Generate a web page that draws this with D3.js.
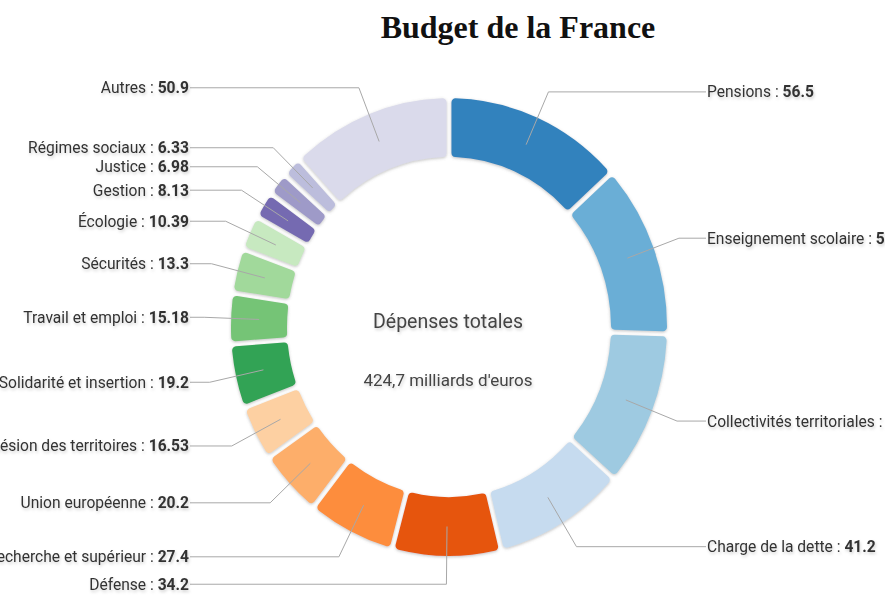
<!DOCTYPE html>
<html>
<head>
<meta charset="utf-8">
<style>
  body { margin: 0; background: #fff; }
  svg { display: block; }
</style>
</head>
<body>
<svg width="885" height="595"></svg>

<script src="https://cdnjs.cloudflare.com/ajax/libs/d3/7.8.5/d3.min.js"></script>
<script>

	// Budget de la France - donut with outside labels

	const categories = [
		"Pensions", "Enseignement scolaire", "Collectivités territoriales", "Charge de la dette",
		"Défense", "Recherche et supérieur", "Union européenne", "Cohésion des territoires",
		"Solidarité et insertion", "Travail et emploi", "Sécurités", "Écologie",
		"Gestion", "Justice", "Régimes sociaux", "Autres"
	]
	const values = [56.5, 51.7, 46.56, 41.2, 34.2, 27.4, 20.2, 16.53, 19.2, 15.18, 13.3, 10.39, 8.13, 6.98, 6.33, 50.9]
	const colors = [
		"#3182bd", "#6baed6", "#9ecae1", "#c6dbef",
		"#e6550d", "#fd8d3c", "#fdae6b", "#fdd0a2",
		"#31a354", "#74c476", "#a1d99b", "#c7e9c0",
		"#756bb1", "#9e9ac8", "#bcbddc", "#dadaeb"
	]
	const centerTitle = "Dépenses totales"
	const centerTotal = "424,7 milliards d'euros"

	const data = categories.map((name, i) => ({name: name, value: values[i]}))

	const cx = 449
	const cy = 327
	const sy = 1.05          // picture is a bit taller than wide
	const outerR = 218
	const innerR = 162
	const kneeR = 245
	const labelGap = 257     // distance of the label column from the centre

	const svg = d3.select("svg")
		.attr("font-family", "Roboto, sans-serif")

	const defs = svg.append("defs")
	defs.append("filter").attr("id", "sliceShadow")
		.attr("x", "-10%").attr("y", "-10%").attr("width", "120%").attr("height", "120%")
		.append("feDropShadow")
			.attr("dx", 0).attr("dy", 1).attr("stdDeviation", 1.4)
			.attr("flood-color", "#777").attr("flood-opacity", 0.45)
	defs.append("filter").attr("id", "textShadow")
		.attr("x", "-10%").attr("y", "-40%").attr("width", "120%").attr("height", "180%")
		.append("feDropShadow")
			.attr("dx", 1).attr("dy", 2).attr("stdDeviation", 1.6)
			.attr("flood-color", "#000").attr("flood-opacity", 0.18)

	// title
	svg.append("text")
		.attr("x", 518)
		.attr("y", 38)
		.attr("text-anchor", "middle")
		.attr("font-family", "'Liberation Serif', serif")
		.attr("font-weight", "bold")
		.attr("font-size", 32)
		.attr("fill", "#111")
		.text("Budget de la France")

	const pie = d3.pie()
		.sort(null)
		.value(d => d.value)

	const arc = d3.arc()
		.innerRadius(innerR)
		.outerRadius(outerR)
		.cornerRadius(4)
		.padAngle(0.018)

	const arcs = pie(data)

	// slices
	svg.append("g")
		.attr("transform", `translate(${cx},${cy}) scale(1,${sy})`)
		.attr("filter", "url(#sliceShadow)")
		.selectAll("path")
		.data(arcs)
		.join("path")
			.attr("d", arc)
			.attr("fill", (d, i) => colors[i])

	// label geometry
	const mid = d => (d.startAngle + d.endAngle) / 2
	const isRight = d => mid(d) < Math.PI
	const centroid = d => {
		const a = mid(d), r = (innerR + outerR) / 2
		return [cx + r * Math.sin(a), cy - r * Math.cos(a) * sy]
	}
	const knee = d => {
		const a = mid(d)
		return [cx + kneeR * Math.sin(a), cy - kneeR * Math.cos(a) * sy]
	}
	const labelX = d => isRight(d) ? cx + labelGap : cx - labelGap - 2

	// leader lines
	svg.append("g")
		.selectAll("polyline")
		.data(arcs)
		.join("polyline")
			.attr("fill", "none")
			.attr("stroke", "#a8a8a8")
			.attr("stroke-width", 1)
			.attr("points", d => {
				const c = centroid(d), k = knee(d)
				return [c, k, [labelX(d), k[1]]].map(p => p.join(",")).join(" ")
			})

	// labels
	const label = svg.append("g")
		.attr("filter", "url(#textShadow)")
		.attr("font-size", 15.6)
		.attr("fill", "#333")
		.selectAll("text")
		.data(arcs)
		.join("text")
			.attr("x", d => isRight(d) ? labelX(d) + 1 : labelX(d) - 1)
			.attr("y", d => knee(d)[1])
			.attr("dy", "0.35em")
			.attr("text-anchor", d => isRight(d) ? "start" : "end")

	label.append("tspan").text(d => d.data.name + " : ")
	label.append("tspan").attr("font-weight", "bold").text(d => d.data.value)

	// centre text
	const centre = svg.append("g")
		.attr("filter", "url(#textShadow)")
		.attr("text-anchor", "middle")
		.attr("fill", "#444")
	centre.append("text")
		.attr("x", cx - 1)
		.attr("y", 328)
		.attr("font-size", 19.5)
		.text(centerTitle)
	centre.append("text")
		.attr("x", cx - 1)
		.attr("y", 386)
		.attr("font-size", 17)
		.text(centerTotal)

</script>
</body>
</html>
